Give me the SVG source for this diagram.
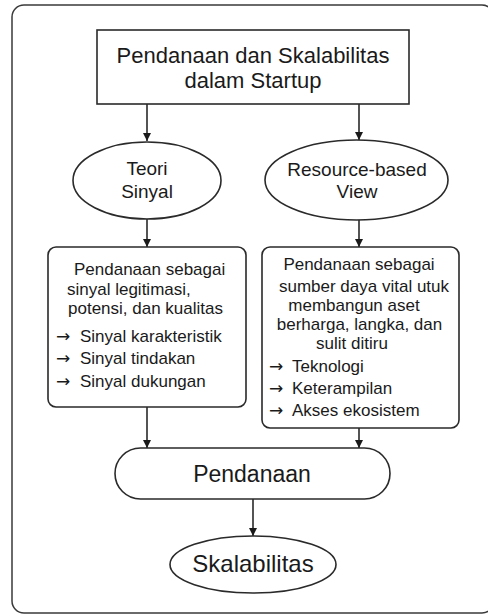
<svg xmlns="http://www.w3.org/2000/svg" width="488" height="616" viewBox="0 0 488 616">
<style>
.s{fill:#fff;stroke:#2a2a2a;stroke-width:1.6}
.t{font-family:"Liberation Sans",Arial,sans-serif;fill:#1a1a1a}
.a{font-family:"DejaVu Sans",sans-serif;font-size:17px}
.c{stroke:#2a2a2a;stroke-width:1.6;fill:none}
</style>
<defs>
<marker id="ah" viewBox="0 0 10 10" refX="10" refY="5" markerWidth="8" markerHeight="8" markerUnits="userSpaceOnUse" orient="auto">
<path d="M0,0 L10,5 L0,10 z" fill="#1a1a1a"/>
</marker>
</defs>
<rect x="0" y="0" width="488" height="616" fill="#fff"/>
<rect id="frame" x="12" y="5" width="482" height="608" rx="12" fill="#fff" stroke="#3a3a3a" stroke-width="1.5"/>
<g id="connectors">
<line class="c" x1="147" y1="104" x2="147" y2="141" marker-end="url(#ah)"/>
<line class="c" x1="359" y1="104" x2="359" y2="140" marker-end="url(#ah)"/>
<line class="c" x1="147" y1="219" x2="147" y2="247" marker-end="url(#ah)"/>
<line class="c" x1="359" y1="220" x2="359" y2="247" marker-end="url(#ah)"/>
<line class="c" x1="147" y1="407" x2="147" y2="448" marker-end="url(#ah)"/>
<line class="c" x1="359" y1="428" x2="359" y2="448" marker-end="url(#ah)"/>
<line class="c" x1="253" y1="499" x2="253" y2="536" marker-end="url(#ah)"/>
</g>
<g id="title">
<rect class="s" x="97" y="30" width="312" height="74"/>
<text class="t" font-size="22" text-anchor="middle" x="253" y="63">Pendanaan dan Skalabilitas</text>
<text class="t" font-size="22" text-anchor="middle" x="253" y="88">dalam Startup</text>
</g>
<g id="teori">
<ellipse class="s" cx="147" cy="180.5" rx="74" ry="38.5"/>
<text class="t" font-size="19" text-anchor="middle" x="147" y="175">Teori</text>
<text class="t" font-size="19" text-anchor="middle" x="147" y="198">Sinyal</text>
</g>
<g id="rbv">
<ellipse class="s" cx="356.5" cy="180" rx="91.5" ry="40"/>
<text class="t" font-size="19" text-anchor="middle" x="357" y="176">Resource-based</text>
<text class="t" font-size="19" text-anchor="middle" x="357" y="198">View</text>
</g>
<g id="box-sinyal">
<rect class="s" x="48" y="247" width="198" height="160" rx="8"/>
<text class="t" font-size="17" x="74" y="275">Pendanaan sebagai</text>
<text class="t" font-size="17" x="67" y="295">sinyal legitimasi,</text>
<text class="t" font-size="17" x="68" y="314">potensi, dan kualitas</text>
<text class="t" font-size="17" y="342"><tspan class="a" x="56">→</tspan><tspan x="80">Sinyal karakteristik</tspan></text>
<text class="t" font-size="17" y="364"><tspan class="a" x="56">→</tspan><tspan x="80">Sinyal tindakan</tspan></text>
<text class="t" font-size="17" y="387"><tspan class="a" x="56">→</tspan><tspan x="80">Sinyal dukungan</tspan></text>
</g>
<g id="box-rbv">
<rect class="s" x="262" y="247" width="197" height="181" rx="8"/>
<text class="t" font-size="17" text-anchor="middle" x="359" y="270">Pendanaan sebagai</text>
<text class="t" font-size="17" text-anchor="middle" x="364" y="292">sumber daya vital utuk</text>
<text class="t" font-size="17" text-anchor="middle" x="354" y="311">membangun aset</text>
<text class="t" font-size="17" text-anchor="middle" x="359.5" y="330">berharga, langka, dan</text>
<text class="t" font-size="17" text-anchor="middle" x="352" y="349">sulit ditiru</text>
<text class="t" font-size="17" y="372"><tspan class="a" x="269">→</tspan><tspan x="292">Teknologi</tspan></text>
<text class="t" font-size="17" y="394"><tspan class="a" x="269">→</tspan><tspan x="292">Keterampilan</tspan></text>
<text class="t" font-size="17" y="416"><tspan class="a" x="269">→</tspan><tspan x="292">Akses ekosistem</tspan></text>
</g>
<g id="pendanaan">
<rect class="s" x="115" y="448" width="275" height="51" rx="25.5"/>
<text class="t" font-size="23" text-anchor="middle" x="252" y="482">Pendanaan</text>
</g>
<g id="skalabilitas">
<ellipse class="s" cx="253" cy="564.5" rx="83" ry="28.5"/>
<text class="t" font-size="24" text-anchor="middle" x="253" y="572">Skalabilitas</text>
</g>
</svg>
